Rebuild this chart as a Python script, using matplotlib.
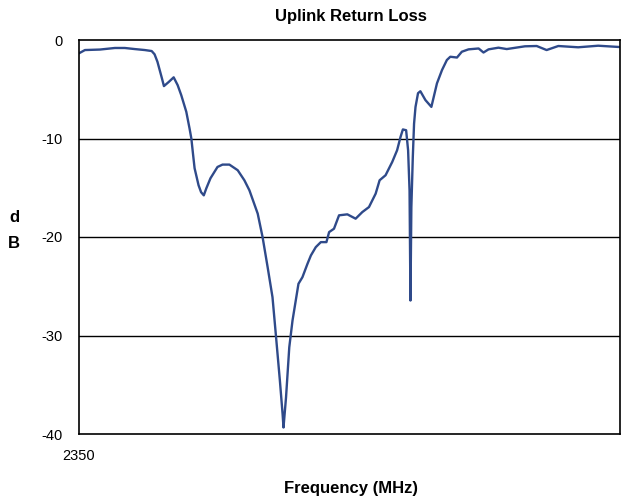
import matplotlib
matplotlib.use('Agg')
import matplotlib.pyplot as plt

plt.rcParams['font.family'] = ['Liberation Sans', 'DejaVu Sans']
plt.rcParams['axes.unicode_minus'] = False

# values
freq_mhz = [2350.0, 2353.3, 2361.6, 2369.9, 2375.4, 2380.9, 2386.5, 2390.3, 2391.9, 2393.5,
            2396.0, 2397.1, 2399.7, 2402.5, 2404.7, 2406.7, 2409.5, 2411.3, 2412.3, 2413.3,
            2414.1, 2416.3, 2417.7, 2419.2, 2420.6, 2422.9, 2426.8, 2429.6, 2433.4, 2438.0,
            2441.7, 2444.5, 2449.1, 2451.8, 2454.6, 2457.3, 2459.2, 2461.4, 2462.9, 2463.4,
            2464.8, 2466.6, 2468.4, 2471.7, 2473.9, 2476.7, 2478.6, 2481.3, 2484.1, 2487.2,
            2488.7, 2491.4, 2494.2, 2498.8, 2503.4, 2507.1, 2510.8, 2514.5, 2516.7, 2520.0,
            2523.7, 2526.4, 2528.3, 2529.6, 2531.4, 2532.5, 2533.3, 2533.8, 2534.3, 2535.1,
            2535.8, 2536.6, 2538.0, 2539.3, 2542.1, 2545.4, 2548.5, 2551.3, 2554.0, 2555.9,
            2559.6, 2562.3, 2566.0, 2571.6, 2574.3, 2577.1, 2582.6, 2587.2, 2597.3, 2603.8,
            2609.3, 2615.8, 2626.8, 2637.9, 2649.5]
return_loss_db = [-1.35, -1.02, -0.97, -0.81, -0.81, -0.92, -1.02, -1.12, -1.45, -2.21,
                  -3.90, -4.68, -4.27, -3.79, -4.58, -5.60, -7.29, -8.98, -10.0, -11.70,
                  -13.02, -14.75, -15.45, -15.77, -15.06, -14.04, -12.89, -12.65, -12.65, -13.22,
                  -14.24, -15.26, -17.63, -20.01, -23.06, -26.11, -30.01, -34.59, -37.98, -39.34,
                  -36.29, -31.20, -28.48, -24.75, -24.08, -22.72, -21.87, -21.03, -20.52, -20.52,
                  -19.50, -19.16, -17.80, -17.70, -18.14, -17.47, -16.96, -15.60, -14.24, -13.73,
                  -12.38, -11.19, -9.84, -9.08, -9.16, -11.2, -15.3, -26.45, -17.0, -11.9,
                  -8.5, -6.8, -5.4, -5.2, -6.10, -6.79, -4.40, -3.05, -2.03, -1.70,
                  -1.78, -1.19, -0.95, -0.86, -1.27, -0.95, -0.78, -0.92, -0.64, -0.61,
                  -1.02, -0.61, -0.74, -0.58, -0.71]
y_ticks = [0, -10, -20, -30, -40]
x_ticks = [2350]

fig = plt.figure(figsize=(6.24, 5.03), dpi=100)
ax = fig.add_axes([79 / 624, 69 / 503, 541 / 624, 394 / 503])

ax.plot(freq_mhz, return_loss_db, color='#2f4a8a', lw=1.7,
        solid_joinstyle='round', solid_capstyle='round')

ax.set_xlim(2350, 2650)
ax.set_ylim(-40, 0)
ax.set_yticks(y_ticks)
ax.set_xticks(x_ticks)
ax.set_xticklabels(['2350'])
ax.tick_params(axis='both', length=0, labelsize=10.5)
ax.tick_params(axis='y', pad=11.5)
ax.tick_params(axis='x', pad=11)

for y in [-10, -20, -30]:
    ax.axhline(y, color='black', lw=1.0, zorder=0)
for s in ax.spines.values():
    s.set_color('black')
    s.set_linewidth(1.2)

fig.text(351 / 624, 1 - 17 / 503, 'Uplink Return Loss', ha='center', va='center',
         fontsize=12, fontweight='bold')
fig.text(351 / 624, 1 - 488 / 503, 'Frequency (MHz)', ha='center', va='center',
         fontsize=12, fontweight='bold')
fig.text(14 / 624, 1 - 218 / 503, 'd', ha='center', va='center', fontsize=12, fontweight='bold')
fig.text(14 / 624, 1 - 243 / 503, 'B', ha='center', va='center', fontsize=12, fontweight='bold')

fig.savefig('out.png', dpi=100)
